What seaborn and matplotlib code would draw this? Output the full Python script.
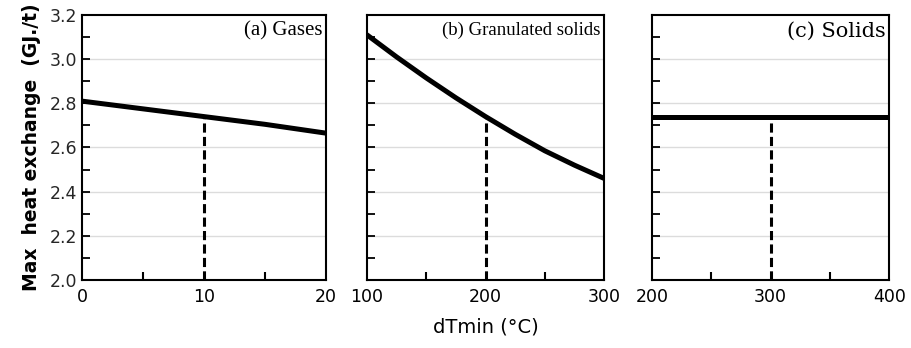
import matplotlib
matplotlib.use("Agg")
import matplotlib.pyplot as plt
import seaborn as sns
import pandas as pd
from matplotlib.ticker import MultipleLocator

sns.set_theme(style="white")
plt.rcParams['font.family'] = ['DejaVu Sans']

# Data
gas_x = [0, 5, 10, 15, 20]
gas_y = [2.81, 2.775, 2.74, 2.705, 2.665]
gran_x = [100, 125, 150, 175, 200, 225, 250, 275, 300]
gran_y = [3.11, 3.01, 2.915, 2.825, 2.74, 2.66, 2.585, 2.52, 2.46]
sol_x = [200, 300, 400]
sol_y = [2.74, 2.74, 2.74]
marks_x = [10, 200, 300]
marks_y = [2.74, 2.74, 2.74]
xlims = [(0, 20), (100, 300), (200, 400)]
xticks = [[0, 10, 20], [100, 200, 300], [200, 300, 400]]
xminor = [5, 50, 50]
titles = ["(a) Gases", "(b) Granulated solids", "(c) Solids"]
title_fonts = [("Liberation Serif", 15), ("Liberation Serif", 13.5), ("DejaVu Serif", 15)]
yticks = [2.0, 2.2, 2.4, 2.6, 2.8, 3.0, 3.2]

fig = plt.figure(figsize=(9.12, 3.48), dpi=100)
positions = [(0.0899, 0.1954, 0.2675, 0.7615),
             (0.4024, 0.1954, 0.2600, 0.7615),
             (0.7150, 0.1954, 0.2600, 0.7615)]
series = [(gas_x, gas_y), (gran_x, gran_y), (sol_x, sol_y)]

for i, pos in enumerate(positions):
    ax = fig.add_axes(pos)
    x, y = series[i]
    df = pd.DataFrame({"x": x, "y": y})
    for g in [2.2, 2.4, 2.6, 2.8, 3.0]:
        ax.axhline(g, color="#dcdcdc", lw=1.0, zorder=0)
    sns.lineplot(data=df, x="x", y="y", ax=ax, color="black", lw=3.6, zorder=3)
    ax.vlines(marks_x[i], 2.0, marks_y[i], colors="black", linestyles=(0, (3.0, 1.4)), lw=2.2, zorder=2)
    ax.set_xlim(*xlims[i])
    ax.set_ylim(2.0, 3.2)
    ax.set_xticks(xticks[i])
    ax.xaxis.set_minor_locator(MultipleLocator(xminor[i]))
    ax.set_yticks(yticks)
    ax.yaxis.set_minor_locator(MultipleLocator(0.1))
    ax.tick_params(axis="both", which="both", direction="in", top=False, right=False,
                   left=True, bottom=True)
    ax.tick_params(axis="x", which="major", length=0, labelsize=12.5, pad=6, colors="black")
    ax.tick_params(axis="x", which="minor", length=6, width=1.5, color="black")
    ax.tick_params(axis="y", which="both", length=6, width=1.3, color="black", labelsize=12.5)
    if i > 0:
        ax.tick_params(axis="y", which="both", labelleft=False)
    for s in ax.spines.values():
        s.set_visible(True)
        s.set_color("black")
        s.set_linewidth(1.5)
    ax.set_xlabel("")
    ax.set_ylabel("")
    fam, size = title_fonts[i]
    ax.text(0.985, 0.975, titles[i], transform=ax.transAxes, ha="right", va="top",
            fontsize=size, family=fam, color="black")
    if i == 0:
        ax.set_ylabel("Max  heat exchange  (GJ./t)", fontsize=13.5, fontweight="bold",
                      color="black", labelpad=6)
    if i == 1:
        ax.set_xlabel("dTmin (°C)", fontsize=14, color="black", labelpad=8)

fig.savefig("out.png", dpi=100)
